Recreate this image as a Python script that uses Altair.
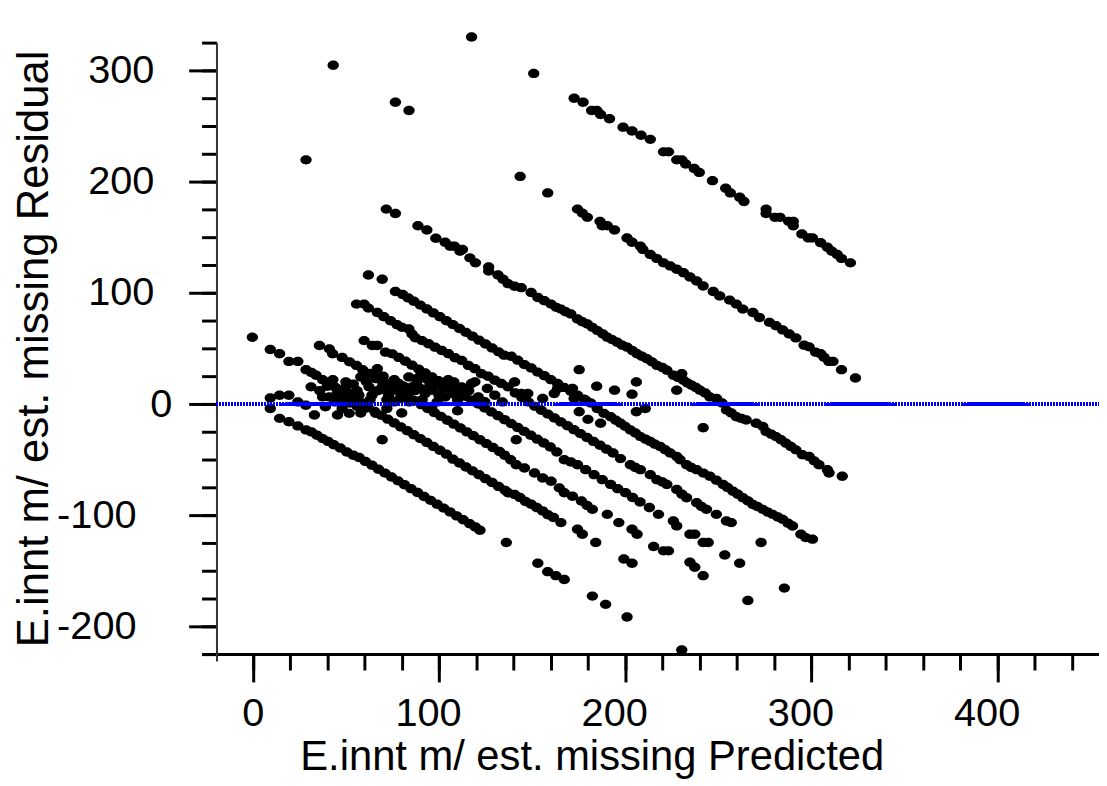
import altair as alt
import pandas as pd

# ---- data: (predicted, residual) ----
scatter_top = [(117.5, 330.0), (43.2, 304.7), (76.6, 271.4), (83.9, 264.0), (28.6, 219.6),
               (150.9, 297.3), (143.6, 204.7), (158.4, 189.9)]

line_a = [(172.6, 275.0), (177.4, 271.4), (182.0, 264.0), (184.8, 264.0), (186.8, 260.4), (191.6, 256.5),
          (198.9, 249.0), (203.7, 245.5), (208.5, 241.7), (213.5, 238.0), (220.6, 226.8), (223.3, 226.8),
          (227.7, 219.6), (230.4, 219.6), (232.5, 215.8), (237.1, 211.9), (239.8, 208.3), (246.9, 200.9),
          (254.0, 194.0), (256.5, 189.9), (261.5, 186.0), (263.8, 182.1), (275.7, 175.3), (275.7, 171.4),
          (280.5, 167.9), (283.2, 167.9), (287.8, 164.3), (290.3, 164.3), (290.3, 160.4), (294.9, 153.0),
          (298.4, 149.4), (300.6, 149.4), (305.0, 145.0), (308.6, 141.0), (311.0, 137.5), (313.9, 134.5),
          (316.2, 131.0), (321.0, 127.0)]

line_b = [(174.4, 175.3), (177.0, 171.7), (179.7, 167.9), (186.5, 164.3), (187.7, 160.4), (190.4, 160.4),
          (194.3, 156.5), (201.0, 149.4), (203.7, 145.5), (208.2, 142.0), (209.5, 139.0), (213.5, 134.5),
          (217.0, 131.0), (220.6, 127.0), (224.2, 124.1), (227.7, 121.2), (231.3, 118.1), (234.8, 114.3),
          (238.4, 110.7), (241.9, 106.2), (247.3, 101.2), (250.8, 97.3), (256.1, 93.5), (259.7, 89.9),
          (263.2, 85.4), (268.6, 82.4), (272.1, 77.9), (277.5, 73.5), (281.0, 70.5), (284.6, 66.7),
          (288.1, 63.1), (291.7, 59.5), (296.1, 53.0), (298.8, 51.5), (302.3, 46.7), (305.0, 45.3),
          (306.8, 42.2), (309.4, 38.4), (311.6, 38.4), (316.2, 31.0), (323.7, 23.5)]

line_c = [(71.7, 175.3), (76.6, 171.4), (88.7, 160.4), (93.5, 156.5), (98.3, 149.1), (103.3, 145.5),
          (106.0, 142.0), (108.3, 142.0), (111.3, 137.5), (112.6, 139.0), (116.6, 131.5), (119.6, 127.0),
          (126.7, 123.2), (126.7, 119.6), (131.7, 116.1), (134.4, 112.2), (137.1, 108.3), (140.6, 106.0),
          (144.2, 104.7), (149.5, 100.3), (153.1, 95.8), (156.6, 92.9), (160.2, 89.9), (163.0, 87.0),
          (165.5, 85.4), (168.0, 83.0), (170.8, 81.0), (174.4, 76.5), (177.0, 74.0), (179.7, 72.0),
          (182.4, 69.0), (185.1, 66.1), (188.0, 63.0), (190.4, 60.1), (193.0, 58.0), (195.7, 55.6),
          (198.4, 53.0), (201.1, 51.2), (204.0, 48.0), (206.4, 45.3), (209.0, 43.0), (211.7, 40.8),
          (214.4, 38.0), (217.1, 34.8), (220.0, 33.0), (222.4, 30.4), (225.9, 25.9), (228.5, 24.0),
          (231.3, 21.4), (233.5, 19.0), (235.7, 17.0), (238.0, 15.0), (240.2, 12.5), (243.0, 10.0),
          (245.5, 6.5), (249.1, 5.1), (252.0, 1.0), (254.4, -5.4), (257.0, -8.0), (259.7, -11.3),
          (262.5, -13.0), (265.0, -14.3), (270.4, -17.2), (273.9, -20.0), (275.7, -24.7), (278.5, -27.0),
          (281.0, -29.2), (283.7, -32.0), (286.4, -35.1), (289.0, -38.0), (291.7, -41.1), (295.2, -45.5),
          (298.8, -47.0), (301.5, -51.0), (304.1, -54.5), (308.6, -58.9), (309.5, -61.9), (316.6, -64.9)]

line_d = [(62.1, 116.1), (69.5, 112.2), (76.6, 101.2), (80.5, 98.5), (83.5, 95.5), (86.5, 92.5),
          (90.0, 89.0), (93.5, 85.5), (97.0, 82.0), (100.5, 78.5), (104.0, 75.0), (107.5, 71.5),
          (111.0, 68.0), (114.5, 64.5), (118.0, 61.0), (121.5, 57.5), (125.0, 54.0), (128.5, 50.5),
          (132.0, 47.0), (135.0, 44.0), (138.8, 43.0), (142.3, 39.5), (145.9, 35.5), (149.5, 32.5),
          (153.0, 28.8), (156.6, 25.5), (160.1, 22.0), (163.7, 18.5), (167.2, 15.0), (170.8, 11.5),
          (174.4, 8.0), (177.9, 4.5), (181.5, 1.0), (185.0, -3.9), (188.6, -8.3), (192.2, -11.3),
          (195.0, -14.5), (197.5, -17.2), (200.0, -20.0), (202.8, -23.2), (205.5, -26.0), (208.2, -29.2),
          (211.0, -31.5), (213.5, -33.6), (216.0, -36.0), (218.8, -38.1), (221.5, -41.0), (224.2, -44.0),
          (227.7, -47.0), (229.5, -50.0), (233.0, -54.5), (235.5, -57.0), (238.4, -58.9), (242.0, -62.0),
          (245.5, -64.9), (249.0, -68.5), (252.6, -72.3), (255.0, -75.0), (257.9, -78.3), (260.5, -81.0),
          (263.2, -84.2), (266.0, -87.0), (268.6, -90.2), (271.0, -92.0), (273.9, -94.6), (276.5, -97.0),
          (279.2, -99.1), (282.0, -101.5), (284.6, -103.6), (287.5, -107.0), (289.9, -109.6),
          (294.4, -117.0), (297.0, -120.0), (300.6, -121.4)]

line_e = [(55.7, 89.9), (59.8, 89.9), (62.1, 86.3), (66.9, 82.4), (70.4, 78.6), (74.0, 75.0), (77.5, 71.4),
          (80.2, 69.0), (83.8, 67.6), (85.5, 63.1), (87.3, 59.6), (90.9, 57.1), (94.4, 54.2), (97.9, 51.2),
          (101.5, 48.2), (105.1, 45.3), (108.6, 41.7), (112.2, 39.3), (115.8, 34.8), (119.3, 31.9),
          (122.8, 27.4), (126.4, 25.0), (130.0, 21.4), (133.5, 18.5), (137.1, 15.5), (141.0, 10.0),
          (144.5, 6.0), (148.0, 2.0), (151.5, -2.0), (155.0, -5.5), (158.5, -9.0), (162.0, -12.5),
          (165.5, -16.0), (169.0, -19.5), (172.5, -23.0), (176.0, -26.5), (179.5, -30.0), (183.0, -33.5),
          (186.5, -37.0), (190.0, -40.5), (193.5, -44.0), (197.5, -49.0), (202.8, -54.5), (205.5, -57.0),
          (208.2, -58.9), (213.5, -63.4), (217.0, -67.9), (220.0, -70.0), (222.4, -72.3), (227.7, -76.8),
          (230.5, -81.0), (233.0, -84.2), (238.4, -88.7), (241.0, -92.0), (243.7, -94.6), (249.0, -99.1),
          (254.4, -105.1), (257.0, -106.5), (273.0, -124.4)]

line_f = [(59.8, 57.1), (64.2, 52.7), (66.9, 52.7), (71.3, 46.7), (74.9, 45.2), (78.4, 42.0), (82.0, 38.5),
          (85.5, 35.0), (89.1, 31.5), (92.6, 28.0), (96.2, 24.5), (99.7, 21.0), (103.3, 17.5), (106.9, 14.0),
          (110.4, 10.5), (114.0, 7.0), (117.5, 3.5), (121.1, 0.0), (124.6, -3.5), (128.2, -7.0),
          (131.7, -10.5), (135.3, -14.0), (138.8, -17.5), (142.3, -21.0), (145.8, -24.5), (149.3, -28.0),
          (152.8, -31.5), (156.3, -35.0), (159.8, -38.5), (163.3, -43.0), (167.3, -50.0), (170.8, -52.0),
          (174.4, -54.5), (178.8, -58.9), (183.3, -63.4), (187.7, -67.9), (192.2, -72.3), (196.0, -76.0),
          (200.2, -79.7), (204.0, -84.0), (208.0, -88.0), (213.0, -93.0), (217.9, -99.1), (225.9, -105.1),
          (227.7, -109.5), (234.8, -117.0), (237.4, -117.0), (241.9, -124.4), (244.6, -124.4),
          (253.5, -135.7), (261.5, -143.1), (285.5, -165.4)]

line_i = [(35.8, 52.7), (41.1, 49.7), (42.9, 45.3), (48.0, 42.0), (52.0, 38.0), (55.7, 34.8), (59.0, 31.0),
          (62.5, 27.5), (66.0, 24.0), (69.5, 20.5), (73.0, 17.0), (76.5, 13.5), (80.0, 10.0), (83.5, 6.5),
          (87.0, 3.0), (90.5, -0.5), (94.0, -4.0), (97.5, -7.5), (101.0, -11.0), (104.5, -14.5),
          (108.0, -18.0), (111.5, -21.5), (115.0, -25.0), (118.5, -28.5), (122.0, -32.0), (125.5, -35.5),
          (129.0, -39.0), (132.5, -42.5), (135.3, -46.0), (138.5, -50.0), (141.5, -54.5), (145.9, -57.4),
          (151.3, -61.9), (155.7, -66.4), (160.2, -69.4), (164.6, -75.3), (167.3, -79.7), (171.7, -82.8),
          (176.5, -87.0), (179.5, -91.0), (182.4, -94.6), (190.4, -99.1), (196.6, -106.5), (203.7, -112.5),
          (206.4, -117.0), (215.3, -128.0), (220.6, -131.9), (223.3, -131.9), (234.8, -142.2),
          (237.4, -146.7), (241.9, -154.2), (265.9, -176.5)]

line_g = [(-0.2, 60.1), (9.4, 49.1), (14.4, 45.3), (19.4, 38.4), (24.2, 38.4), (28.6, 31.0), (31.5, 28.5),
          (34.0, 25.9), (37.5, 22.0), (41.0, 18.5), (44.5, 15.0), (48.0, 11.5), (51.5, 8.0), (55.0, 4.5),
          (58.5, 1.0), (62.0, -3.0), (65.5, -6.5), (69.0, -10.0), (72.5, -13.5), (76.0, -17.0),
          (79.5, -20.5), (83.0, -24.0), (86.5, -27.5), (90.0, -31.0), (93.5, -34.5), (97.0, -38.0),
          (100.5, -41.5), (104.0, -45.0), (107.5, -49.5), (111.0, -53.0), (114.5, -56.5), (118.0, -60.0),
          (121.5, -63.5), (125.0, -67.0), (128.5, -70.5), (132.0, -74.0), (135.5, -77.5), (137.1, -79.7),
          (140.6, -81.3), (143.5, -84.0), (146.5, -87.5), (149.5, -90.0), (152.5, -93.0), (155.7, -96.0),
          (158.5, -99.5), (161.5, -102.0), (165.5, -106.5), (174.4, -112.5), (177.0, -117.0),
          (184.2, -124.4), (199.3, -139.3), (203.7, -143.1)]

line_j = [(9.4, 5.6), (14.4, 8.0), (19.4, 8.0), (24.2, 2.0), (28.5, -1.0), (33.1, -9.8)]

line_h = [(9.4, -3.9), (14.4, -12.8), (19.4, -15.8), (24.2, -19.6), (28.6, -23.2), (31.5, -25.0),
          (34.5, -28.0), (37.5, -31.0), (40.5, -33.5), (43.5, -36.5), (47.0, -39.5), (50.5, -43.0),
          (54.0, -46.0), (57.1, -48.0), (60.5, -51.5), (64.0, -55.0), (67.5, -58.5), (71.0, -62.0),
          (74.5, -65.5), (78.0, -69.0), (81.5, -72.5), (85.0, -76.0), (88.5, -79.5), (92.0, -83.0),
          (95.5, -86.5), (99.0, -90.0), (102.5, -93.5), (106.0, -97.0), (109.5, -100.5), (113.0, -104.0),
          (116.5, -107.5), (119.5, -110.5), (122.0, -113.4), (136.2, -124.4), (153.1, -143.1),
          (158.4, -150.6), (162.8, -154.2), (167.3, -157.7), (182.4, -172.6), (189.5, -180.0),
          (201.0, -191.4), (230.4, -221.0)]

blob = [(37.5, 6.5), (41.1, 6.5), (45.5, 9.5), (50.0, 20.0), (50.0, 15.5), (53.5, 9.5), (58.0, 24.4),
        (62.4, 15.5), (66.0, 22.9), (66.9, 31.8), (69.5, 15.5), (71.3, 12.5), (74.9, 20.0), (78.4, 18.5),
        (82.0, 9.5), (83.8, 24.4), (85.5, 15.5), (88.2, 20.0), (92.6, 9.5), (96.2, 12.5), (103.3, 6.5),
        (106.9, 9.5), (112.2, 15.5), (117.5, 18.5), (119.3, 20.0), (121.1, 6.5), (124.6, 2.1),
        (39.0, -2.4), (45.5, -9.8), (51.8, -8.3), (60.0, -3.9), (66.0, -8.3), (69.5, -32.1), (31.3, 15.5),
        (140.6, 19.9), (144.2, 9.5), (147.7, 9.5), (155.7, 5.1), (161.9, 9.5), (163.7, 14.0),
        (171.7, 14.0), (172.6, 5.1), (178.8, 3.6), (175.3, 31.0), (184.7, 16.1), (194.3, 12.5),
        (203.7, 8.9), (206.0, 19.9), (227.7, 12.5), (230.4, 27.4), (241.9, -21.2), (206.0, -6.9),
        (210.8, -3.9), (180.0, -13.7), (186.8, -17.2), (175.3, -6.9), (141.5, -32.1),
        (44.0, 2.0), (56.0, 12.0), (64.0, 8.0), (72.0, 4.0), (78.0, 12.0), (90.0, 14.0), (98.0, 18.0),
        (100.0, 8.0), (108.0, 20.0), (114.0, 10.0), (56.0, -2.0), (76.0, 2.0), (94.0, 22.0),
        (36.0, 12.0), (40.0, 16.0), (43.0, 22.0), (47.0, 4.0), (52.0, 1.0), (54.0, 18.0), (57.0, 8.0),
        (61.0, 20.0), (63.0, 4.0), (67.0, 12.0), (70.0, 25.0), (73.0, 8.0), (76.0, 22.0), (79.0, 5.0),
        (81.0, 16.0), (84.0, 2.0), (87.0, 12.0), (89.0, 24.0), (91.0, 4.0), (95.0, 16.0), (99.0, 2.0),
        (102.0, 14.0), (105.0, 22.0), (110.0, 4.0), (116.0, 12.0), (126.0, 14.0), (130.0, 8.0),
        (134.0, 2.0), (48.0, -4.0), (58.0, -8.0), (72.0, -4.0), (80.0, -8.0), (96.0, -3.0), (110.0, -6.0)]

x_major = [0, 100, 200, 300, 400]
x_minor = list(range(0, 460, 20))
y_pos = [100, 200, 300]
y_zero = [0]
y_neg = [-200, -100]
y_minor = list(range(-225, 326, 25))

groups = [scatter_top, line_a, line_b, line_c, line_d, line_e, line_f, line_i, line_g, line_j, line_h, blob]
rows = [p for g in groups for p in g]
df = pd.DataFrame(rows, columns=["pred", "resid"])

FONT = "Liberation Sans"
xscale = alt.Scale(domain=[-27.5, 454.5], nice=False, zero=False)
yscale = alt.Scale(domain=[-231, 325], nice=False, zero=False)
ellipse = "M -1 0 A 1 0.83 0 1 1 1 0 A 1 0.83 0 1 1 -1 0 Z"
XOFF = -7
YOFF = -15


def y_label_axis(vals, pad, title=None, domain=False):
    kw = dict(orient="left", offset=YOFF, values=vals, tickSize=28, tickWidth=3, tickColor="black",
              domain=domain, grid=False, labelFont=FONT, labelFontSize=40, labelColor="black",
              labelPadding=pad, labelOverlap=False, labelFlush=False, labelBound=False,
              labelExpr="'' + datum.value")
    if domain:
        kw.update(domainColor="#333333", domainWidth=2)
    if title:
        kw.update(title=title, titleFont=FONT, titleFontSize=44, titleFontWeight="normal",
                  titleColor="black", titleX=-170, titleY=308, titleAngle=270,
                  titleAlign="center", titleBaseline="alphabetic")
    else:
        kw.update(title=None)
    return alt.Axis(**kw)


points = alt.Chart(df).mark_point(
    filled=True, shape=ellipse, size=130, color="black", opacity=1, strokeWidth=0
).encode(
    x=alt.X("pred:Q", scale=xscale, axis=alt.Axis(
        orient="bottom", offset=XOFF, values=x_major, tickSize=28, tickWidth=3, tickColor="black",
        domainColor="black", domainWidth=3, grid=False,
        labelFont=FONT, labelFontSize=40, labelColor="black", labelPadding=12,
        labelOverlap=False, labelFlush=False, labelBound=False,
        labelOffset=alt.condition("datum.value == 0", alt.value(0), alt.value(-11)),
        title="E.innt m/ est. missing Predicted", titleFont=FONT, titleFontSize=42,
        titleFontWeight="normal", titleColor="black", titleX=393, titleY=116,
        titleAlign="center", titleBaseline="alphabetic")),
    y=alt.Y("resid:Q", scale=yscale,
            axis=y_label_axis(y_pos, 35, title="E.innt m/ est. missing Residual", domain=True)),
)

minor = alt.Chart(df).mark_point(opacity=0).encode(
    x=alt.X("pred:Q", scale=xscale, axis=alt.Axis(
        orient="bottom", offset=XOFF, values=x_minor, tickSize=16, tickWidth=3, tickColor="black",
        domain=False, labels=False, grid=False, title=None)),
    y=alt.Y("resid:Q", scale=yscale, axis=alt.Axis(
        orient="left", offset=YOFF, values=y_minor, tickSize=15, tickWidth=3, tickColor="black",
        domain=False, labels=False, grid=False, title=None)),
)

zero_lab = alt.Chart(df).mark_point(opacity=0).encode(
    x=alt.X("pred:Q", scale=xscale, axis=None),
    y=alt.Y("resid:Q", scale=yscale, axis=y_label_axis(y_zero, 17)),
)

neg_lab = alt.Chart(df).mark_point(opacity=0).encode(
    x=alt.X("pred:Q", scale=xscale, axis=None),
    y=alt.Y("resid:Q", scale=yscale, axis=y_label_axis(y_neg, 53)),
)

zero = alt.Chart(df).mark_rule(color="#0000ff", strokeWidth=4, strokeDash=[1.5, 1.5]).encode(
    x=alt.X(datum=-19.5, scale=xscale, axis=None),
    x2=alt.X2(datum=454.5),
    y=alt.Y(datum=0, scale=yscale, axis=None),
)

chart = alt.layer(minor, zero_lab, neg_lab, points, zero).resolve_axis(
    x="independent", y="independent"
).properties(
    width=904, height=623,
    autosize=alt.AutoSizeParams(type="none"),
    padding={"left": 195, "top": 32, "right": 0, "bottom": 123},
    background="white",
).configure_view(stroke=None)

chart.save("out.html", embed_options={"renderer": "svg", "actions": False})
